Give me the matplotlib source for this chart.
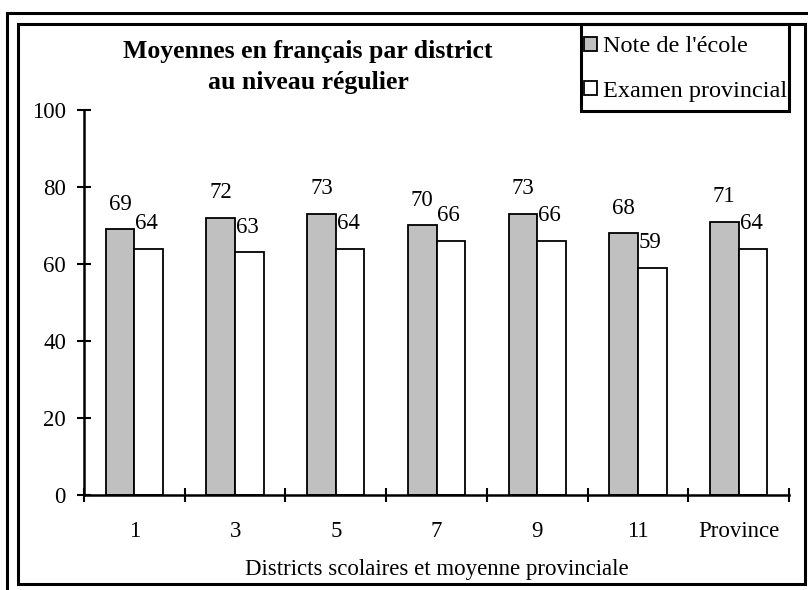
import matplotlib
matplotlib.use("Agg")
import matplotlib.pyplot as plt
from matplotlib.patches import Rectangle, Patch

# Données
districts = ["1", "3", "5", "7", "9", "11", "Province"]
note_ecole = [69, 72, 73, 70, 73, 68, 71]
examen_prov = [64, 63, 64, 66, 66, 59, 64]
y_ticks = [0, 20, 40, 60, 80, 100]

plt.rcParams['font.family'] = ['Liberation Serif', 'DejaVu Serif']

W, H = 808, 590
fig = plt.figure(figsize=(W / 100, H / 100), dpi=100)


def fx(px):
    return px / W


def fy(py):
    return 1 - py / H


FS = 16.5

# cadres extérieur et intérieur
fig.patches.append(Rectangle((fx(7), fy(620)), fx(830), fy(13) - fy(620), fill=False,
                             edgecolor='black', linewidth=2.2, transform=fig.transFigure))
fig.patches.append(Rectangle((fx(18), fy(584)), fx(805 - 18), fy(24) - fy(584), fill=False,
                             edgecolor='black', linewidth=2.2, transform=fig.transFigure))

ax = fig.add_axes([fx(84), fy(495), fx(789 - 84), fy(110) - fy(495)])

x = list(range(len(districts)))
w = 0.285
xg = [i - w / 2 for i in x]
xw = [i + w / 2 for i in x]
ax.bar(xg, note_ecole, width=w, color='#c0c0c0', edgecolor='black', linewidth=1.3)
ax.bar(xw, examen_prov, width=w, color='white', edgecolor='black', linewidth=1.3)

for i in x:
    ax.annotate(str(note_ecole[i]), (xg[i], note_ecole[i]), xytext=(0, 25),
                textcoords='offset pixels', ha='center', va='center', fontsize=FS)
    ax.annotate(str(examen_prov[i]), (xw[i] - w / 2, examen_prov[i]), xytext=(1, 25),
                textcoords='offset pixels', ha='left', va='center', fontsize=FS)

ax.set_xlim(-0.5, len(districts) - 0.5)
ax.set_ylim(0, 100)
ax.set_yticks(y_ticks)
ax.set_yticklabels([str(v) for v in y_ticks])
ax.set_xticks([i - 0.5 for i in range(len(districts) + 1)])
ax.set_xticklabels([])
ax.set_xticks(x, minor=True)
ax.set_xticklabels(districts, minor=True)

ax.tick_params(axis='y', direction='inout', length=10, width=1.5, pad=8, labelsize=FS)
ax.tick_params(axis='x', which='major', direction='inout', length=10, width=1.5)
ax.tick_params(axis='x', which='minor', length=0, pad=19, labelsize=FS)

for s in ['top', 'right']:
    ax.spines[s].set_visible(False)
for s in ['left', 'bottom']:
    ax.spines[s].set_linewidth(1.8)
ax.patch.set_visible(False)

ax.set_xlabel("Districts scolaires et moyenne provinciale", fontsize=FS, labelpad=12)

fig.text(fx(308), fy(67), "Moyennes en français par district\nau niveau régulier",
         ha='center', va='center', fontsize=18.5, fontweight='bold', linespacing=1.42)

# légende
fig.patches.append(Rectangle((fx(581), fy(111)), fx(789 - 581), fy(24) - fy(111), fill=False,
                             edgecolor='black', linewidth=2.2, transform=fig.transFigure))
handles = [Patch(facecolor='#c0c0c0', edgecolor='black', linewidth=1.3, label="Note de l'école"),
           Patch(facecolor='white', edgecolor='black', linewidth=1.3, label="Examen provincial")]
fig.legend(handles=handles, loc='center left', bbox_to_anchor=(fx(584), fy(69)),
           frameon=False, fontsize=17.5, handlelength=0.55, handleheight=0.55,
           handletextpad=0.25, labelspacing=0.95, borderpad=0.0, borderaxespad=0)

fig.savefig("out.png", dpi=100)
